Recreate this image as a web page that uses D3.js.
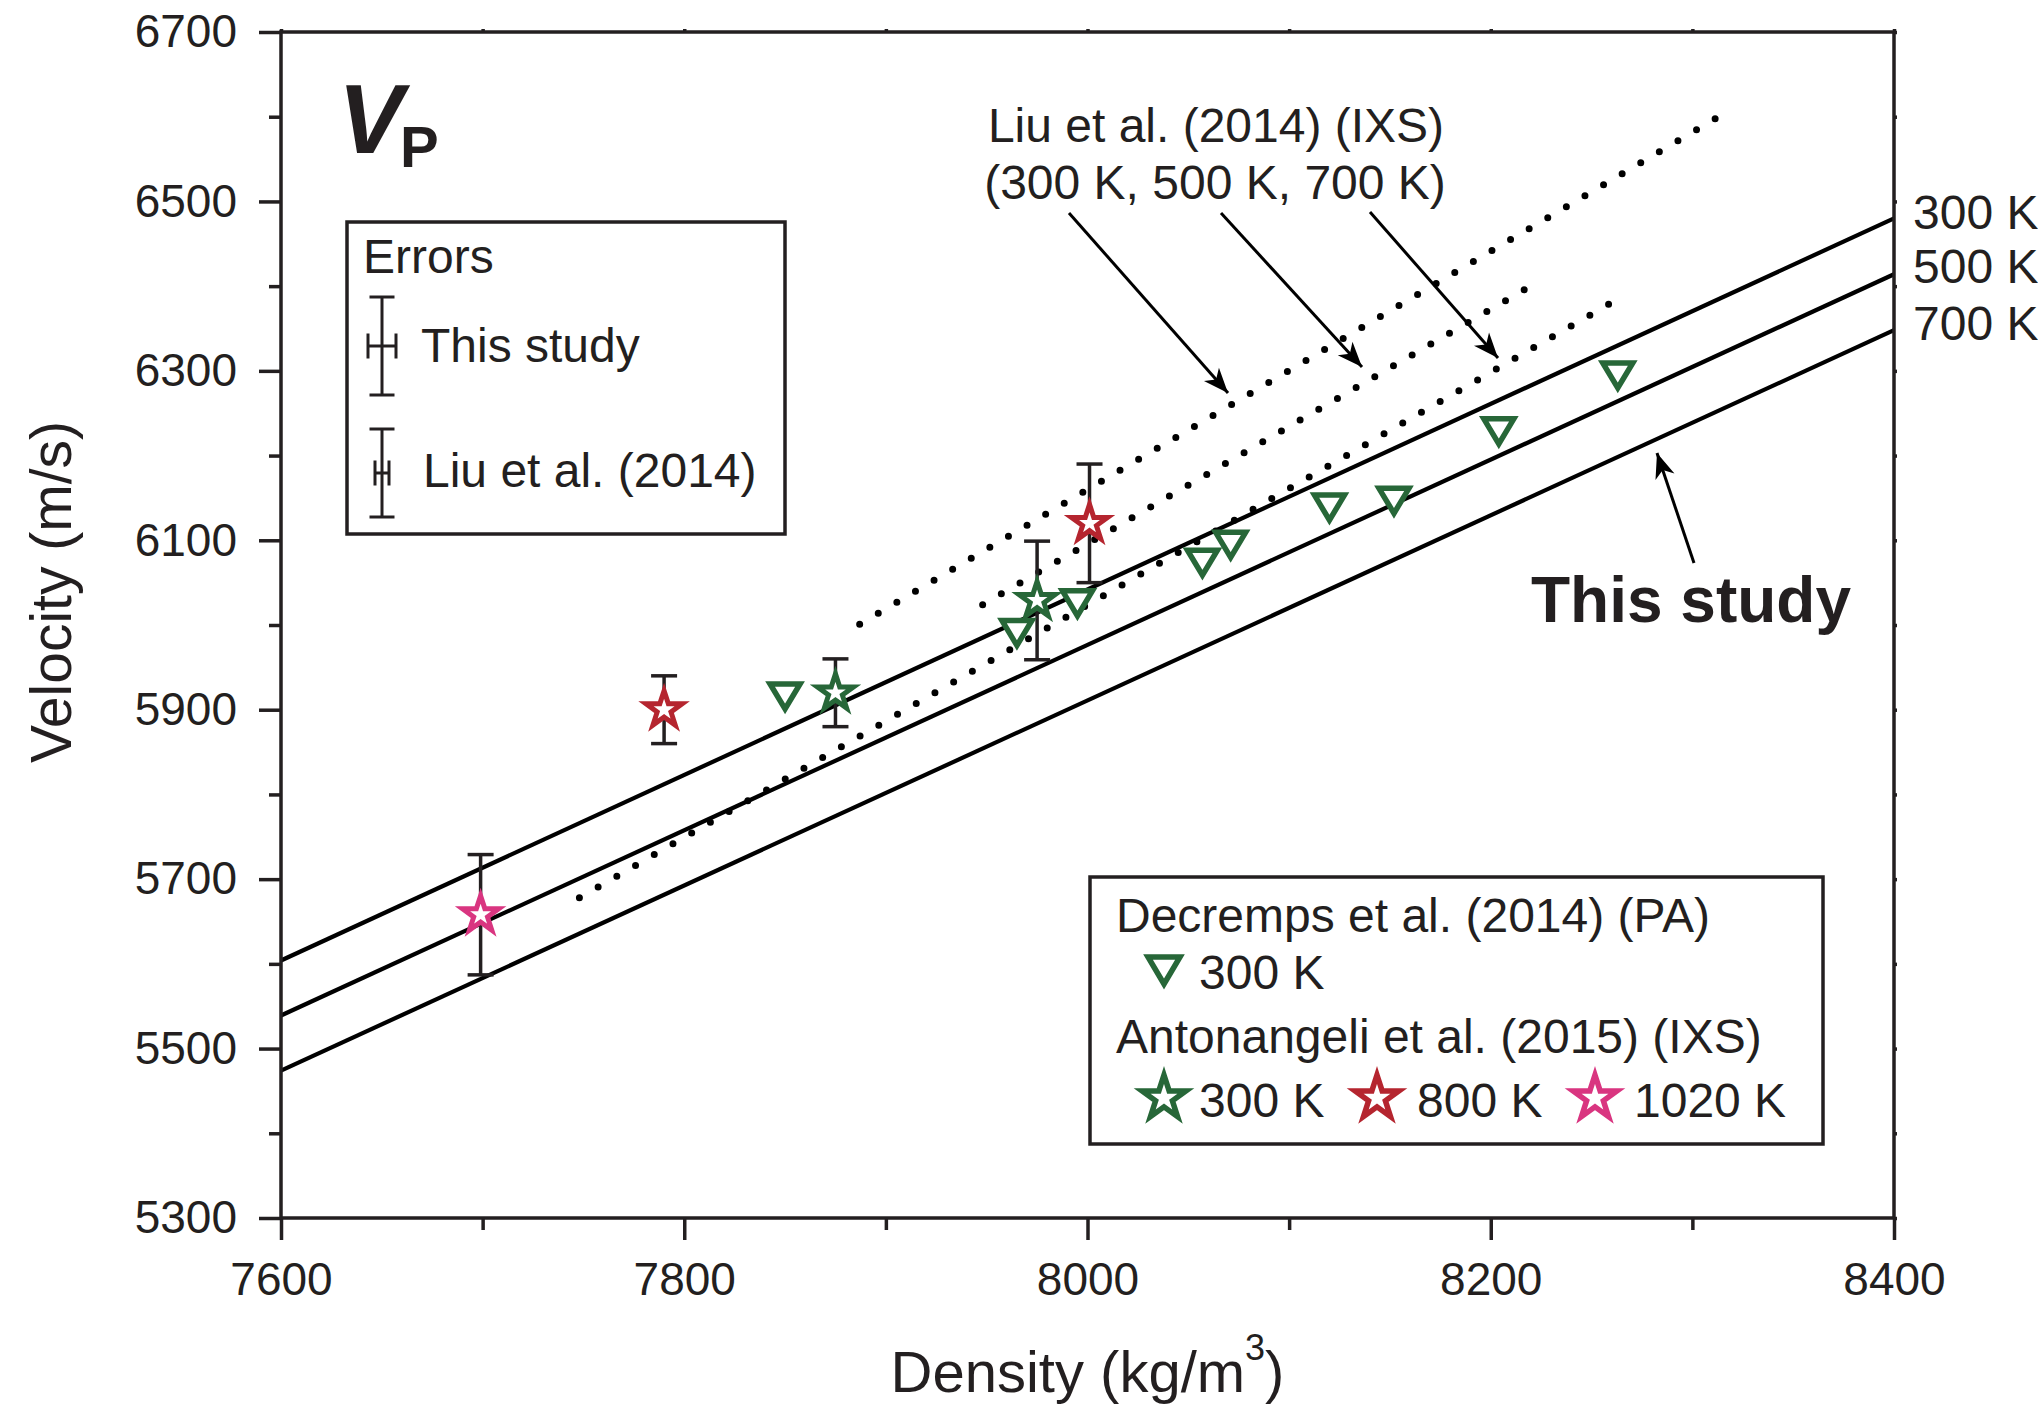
<!DOCTYPE html>
<html>
<head>
<meta charset="utf-8">
<script src="https://cdn.jsdelivr.net/npm/d3@7"></script>
<style>
  html, body { margin: 0; padding: 0; background: #fff; }
  svg { display: block; }
  text { font-family: "Liberation Sans", Arial, Helvetica, sans-serif; fill: #231f20; }
</style>
</head>
<body>
<script>
// ---------------- data ----------------
const densityTicks = [7600, 7800, 8000, 8200, 8400];
const densityMinorTicks = [7700, 7900, 8100, 8300];
const velocityTicks = [5300, 5500, 5700, 5900, 6100, 6300, 6500, 6700];
const velocityMinorTicks = [5400, 5600, 5800, 6000, 6200, 6400, 6600];

// This study (solid lines)
const thisStudyDensity = [7600, 8400];
const thisStudy300K = [5604, 6480];
const thisStudy500K = [5539, 6414];
const thisStudy700K = [5474, 6348];
const thisStudyLabels = ["300 K", "500 K", "700 K"];

// Liu et al. (2014) (IXS) dotted lines
const liu300KDensity = [7887, 8313];
const liu300KVelocity = [6001, 6600];
const liu500KDensity = [7948, 8219];
const liu500KVelocity = [6024, 6399];
const liu700KDensity = [7748, 8261];
const liu700KVelocity = [5678, 6382];

// Decremps et al. (2014) (PA) 300 K
const decrempsDensity = [7850, 7965, 7995, 8057, 8071, 8120, 8152, 8204, 8263];
const decrempsVelocity = [5915, 5990, 6025, 6073, 6094, 6138, 6146, 6228, 6294];

// Antonangeli et al. (2015) (IXS)
const anton300KDensity = [7875, 7975];
const anton300KVelocity = [5920, 6029];
const anton300KError = [40, 70];
const anton800KDensity = [7790, 8001];
const anton800KVelocity = [5900, 6120];
const anton800KError = [40, 70];
const anton1020KDensity = [7699];
const anton1020KVelocity = [5658];
const anton1020KError = [71];

// ---------------- layout ----------------
const W = 2038, H = 1406;
const X0 = 281, X1 = 1894, Y0 = 1218, Y1 = 32;
const INK = "#231f20";
const GREEN = "#276738", RED = "#b5252f", PINK = "#d93580";
const FS = 48;

const svg = d3.select("body").append("svg").attr("width", W).attr("height", H);
svg.append("rect").attr("width", W).attr("height", H).attr("fill", "#fff");

const x = d3.scaleLinear().domain([7600, 8400]).range([X0, X1]);
const y = d3.scaleLinear().domain([5300, 6700]).range([Y0, Y1]);

// arrow marker
const defs = svg.append("defs");
defs.append("marker").attr("id", "arr").attr("viewBox", "-26 -12 28 24")
  .attr("refX", 0).attr("refY", 0).attr("markerWidth", 28).attr("markerHeight", 24)
  .attr("markerUnits", "userSpaceOnUse").attr("orient", "auto")
  .append("path").attr("d", "M0,0L-25,-10L-18,0L-25,10Z").attr("fill", "#000");

// ---------------- axes ----------------
function styleAxis(g) {
  g.select(".domain").remove();
  g.selectAll(".tick line").attr("stroke", INK).attr("stroke-width", 3.5);
  g.selectAll(".tick text").attr("font-size", 46).attr("fill", INK)
    .attr("font-family", '"Liberation Sans", Arial, Helvetica, sans-serif');
}
svg.append("g").attr("transform", `translate(${X0},0)`)
  .call(d3.axisLeft(y).tickValues(velocityTicks).tickSize(22).tickPadding(22).tickFormat(d3.format("d")))
  .call(styleAxis);
svg.append("g").attr("transform", `translate(${X0},0)`)
  .call(d3.axisLeft(y).tickValues(velocityMinorTicks).tickSize(12).tickFormat(""))
  .call(styleAxis);
svg.append("g").attr("transform", `translate(0,${Y0})`)
  .call(d3.axisBottom(x).tickValues(densityTicks).tickSize(22).tickPadding(22).tickFormat(d3.format("d")))
  .call(styleAxis);
svg.append("g").attr("transform", `translate(0,${Y0})`)
  .call(d3.axisBottom(x).tickValues(densityMinorTicks).tickSize(12).tickFormat(""))
  .call(styleAxis);
// tiny ticks on top and right axes
svg.append("g").attr("transform", `translate(0,${Y1})`)
  .call(d3.axisTop(x).tickValues(densityTicks.concat(densityMinorTicks)).tickSize(3).tickFormat(""))
  .call(styleAxis);
svg.append("g").attr("transform", `translate(${X1},0)`)
  .call(d3.axisRight(y).tickValues(velocityTicks.concat(velocityMinorTicks)).tickSize(3).tickFormat(""))
  .call(styleAxis);

// axis titles
svg.append("text").attr("transform", `translate(71,592) rotate(-90)`)
  .attr("text-anchor", "middle").attr("font-size", 57).text("Velocity (m/s)");
const xt = svg.append("text").attr("x", (X0 + X1) / 2).attr("y", 1392)
  .attr("text-anchor", "middle").attr("font-size", 58);
xt.append("tspan").text("Density (kg/m");
xt.append("tspan").attr("font-size", 36).attr("dy", -32).text("3");
xt.append("tspan").attr("dy", 32).text(")");

// ---------------- lines ----------------
const line = d3.line().x(d => x(d[0])).y(d => y(d[1]));
const plotG = svg.append("g");
[thisStudy300K, thisStudy500K, thisStudy700K].forEach(v => {
  plotG.append("path").datum(thisStudyDensity.map((d, i) => [d, v[i]]))
    .attr("d", line).attr("fill", "none").attr("stroke", "#000").attr("stroke-width", 4.2);
});
[[liu300KDensity, liu300KVelocity], [liu500KDensity, liu500KVelocity], [liu700KDensity, liu700KVelocity]]
  .forEach(([dx, dv]) => {
    plotG.append("path").datum(dx.map((d, i) => [d, dv[i]]))
      .attr("d", line).attr("fill", "none").attr("stroke", "#000").attr("stroke-width", 7)
      .attr("stroke-linecap", "round").attr("stroke-dasharray", "0,21.6");
  });

// ---------------- markers ----------------
function starPath(R) {
  const r = R * 0.382, p = [];
  for (let i = 0; i < 10; i++) {
    const a = -Math.PI / 2 + i * Math.PI / 5, rad = i % 2 ? r : R;
    p.push([(rad * Math.cos(a)).toFixed(2), (rad * Math.sin(a)).toFixed(2)]);
  }
  return "M" + p.join("L") + "Z";
}
const triPlot = "M-15,-13L15,-13L0,12Z";
const triLegend = "M-16,-15L16,-15L0,12Z";

// error bars
function errorBars(dx, dv, de) {
  dx.forEach((d, i) => {
    const cx = x(d), yt = y(dv[i] + de[i]), yb = y(dv[i] - de[i]);
    const g = plotG.append("g").attr("stroke", INK).attr("stroke-width", 3.5);
    g.append("line").attr("x1", cx).attr("x2", cx).attr("y1", yt).attr("y2", yb);
    g.append("line").attr("x1", cx - 13).attr("x2", cx + 13).attr("y1", yt).attr("y2", yt);
    g.append("line").attr("x1", cx - 13).attr("x2", cx + 13).attr("y1", yb).attr("y2", yb);
  });
}
errorBars(anton300KDensity, anton300KVelocity, anton300KError);
errorBars(anton800KDensity, anton800KVelocity, anton800KError);
errorBars(anton1020KDensity, anton1020KVelocity, anton1020KError);

// Decremps triangles
plotG.selectAll(".tri").data(decrempsDensity.map((d, i) => [d, decrempsVelocity[i]]))
  .enter().append("path").attr("class", "tri")
  .attr("transform", d => `translate(${x(d[0])},${y(d[1])})`)
  .attr("d", triPlot).attr("fill", "#fff").attr("stroke", GREEN).attr("stroke-width", 5.5)
  .attr("stroke-linejoin", "miter");

// stars
function stars(dx, dv, color) {
  plotG.append("g").selectAll("path").data(dx.map((d, i) => [d, dv[i]])).enter().append("path")
    .attr("transform", d => `translate(${x(d[0])},${y(d[1])})`)
    .attr("d", starPath(19)).attr("fill", "#fff").attr("stroke", color).attr("stroke-width", 5)
    .attr("stroke-linejoin", "miter");
}
stars(anton300KDensity, anton300KVelocity, GREEN);
stars(anton800KDensity, anton800KVelocity, RED);
stars(anton1020KDensity, anton1020KVelocity, PINK);

// frame
svg.append("rect").attr("x", X0).attr("y", Y1).attr("width", X1 - X0).attr("height", Y0 - Y1)
  .attr("fill", "none").attr("stroke", INK).attr("stroke-width", 3.5);

// ---------------- annotations ----------------
// V_P
const vp = svg.append("text").attr("x", 338).attr("y", 153).attr("font-weight", "bold");
vp.append("tspan").attr("font-style", "italic").attr("font-size", 98).text("V");
vp.append("tspan").attr("x", 400).attr("y", 167).attr("font-size", 58).text("P");

// right-side labels
const rightY = [229, 283, 340];
thisStudyLabels.forEach((t, i) => {
  svg.append("text").attr("x", 1913).attr("y", rightY[i]).attr("font-size", FS).text(t);
});

// Liu label + arrows
svg.append("text").attr("x", 1216).attr("y", 142).attr("text-anchor", "middle")
  .attr("font-size", FS).text("Liu et al. (2014) (IXS)");
svg.append("text").attr("x", 1215).attr("y", 199).attr("text-anchor", "middle")
  .attr("font-size", FS).text("(300 K, 500 K, 700 K)");
const arrows = [
  [1069, 213, 1228, 393],
  [1221, 213, 1362, 367],
  [1370, 212, 1498, 358],
  [1694, 563, 1657, 453]
];
arrows.forEach(a => {
  svg.append("line").attr("x1", a[0]).attr("y1", a[1]).attr("x2", a[2]).attr("y2", a[3])
    .attr("stroke", "#000").attr("stroke-width", 3).attr("marker-end", "url(#arr)");
});
svg.append("text").attr("x", 1531).attr("y", 622).attr("font-size", 64).attr("font-weight", "bold")
  .text("This study");

// Errors legend
const el = svg.append("g");
el.append("rect").attr("x", 347).attr("y", 222).attr("width", 438).attr("height", 312)
  .attr("fill", "#fff").attr("stroke", INK).attr("stroke-width", 3.5);
el.append("text").attr("x", 363).attr("y", 273).attr("font-size", FS).text("Errors");
el.append("text").attr("x", 421).attr("y", 362).attr("font-size", FS).text("This study");
el.append("text").attr("x", 423).attr("y", 487).attr("font-size", FS).text("Liu et al. (2014)");
function legendErr(cx, cy, half, hHalf) {
  const g = el.append("g").attr("stroke", INK).attr("stroke-width", 3);
  g.append("line").attr("x1", cx).attr("x2", cx).attr("y1", cy - half).attr("y2", cy + half);
  g.append("line").attr("x1", cx - 12.5).attr("x2", cx + 12.5).attr("y1", cy - half).attr("y2", cy - half);
  g.append("line").attr("x1", cx - 12.5).attr("x2", cx + 12.5).attr("y1", cy + half).attr("y2", cy + half);
  g.append("line").attr("x1", cx - hHalf).attr("x2", cx + hHalf).attr("y1", cy).attr("y2", cy);
  g.append("line").attr("x1", cx - hHalf).attr("x2", cx - hHalf).attr("y1", cy - 12.5).attr("y2", cy + 12.5);
  g.append("line").attr("x1", cx + hHalf).attr("x2", cx + hHalf).attr("y1", cy - 12.5).attr("y2", cy + 12.5);
}
legendErr(382, 346, 49, 14);
legendErr(382, 473, 44, 7);

// data legend
const dl = svg.append("g");
dl.append("rect").attr("x", 1090).attr("y", 877).attr("width", 733).attr("height", 267)
  .attr("fill", "#fff").attr("stroke", INK).attr("stroke-width", 3.5);
dl.append("text").attr("x", 1116).attr("y", 932).attr("font-size", FS).text("Decremps et al. (2014) (PA)");
dl.append("path").attr("transform", "translate(1164,972)").attr("d", triLegend)
  .attr("fill", "#fff").attr("stroke", GREEN).attr("stroke-width", 5.5);
dl.append("text").attr("x", 1199).attr("y", 989).attr("font-size", FS).text("300 K");
dl.append("text").attr("x", 1116).attr("y", 1053).attr("font-size", FS).text("Antonangeli et al. (2015) (IXS)");
const legStars = [[1164, GREEN, "300 K", 1199], [1377, RED, "800 K", 1417], [1595, PINK, "1020 K", 1634]];
legStars.forEach(s => {
  dl.append("path").attr("transform", `translate(${s[0]},1098)`).attr("d", starPath(23))
    .attr("fill", "#fff").attr("stroke", s[1]).attr("stroke-width", 5.5);
  dl.append("text").attr("x", s[3]).attr("y", 1117).attr("font-size", FS).text(s[2]);
});
</script>
</body>
</html>
